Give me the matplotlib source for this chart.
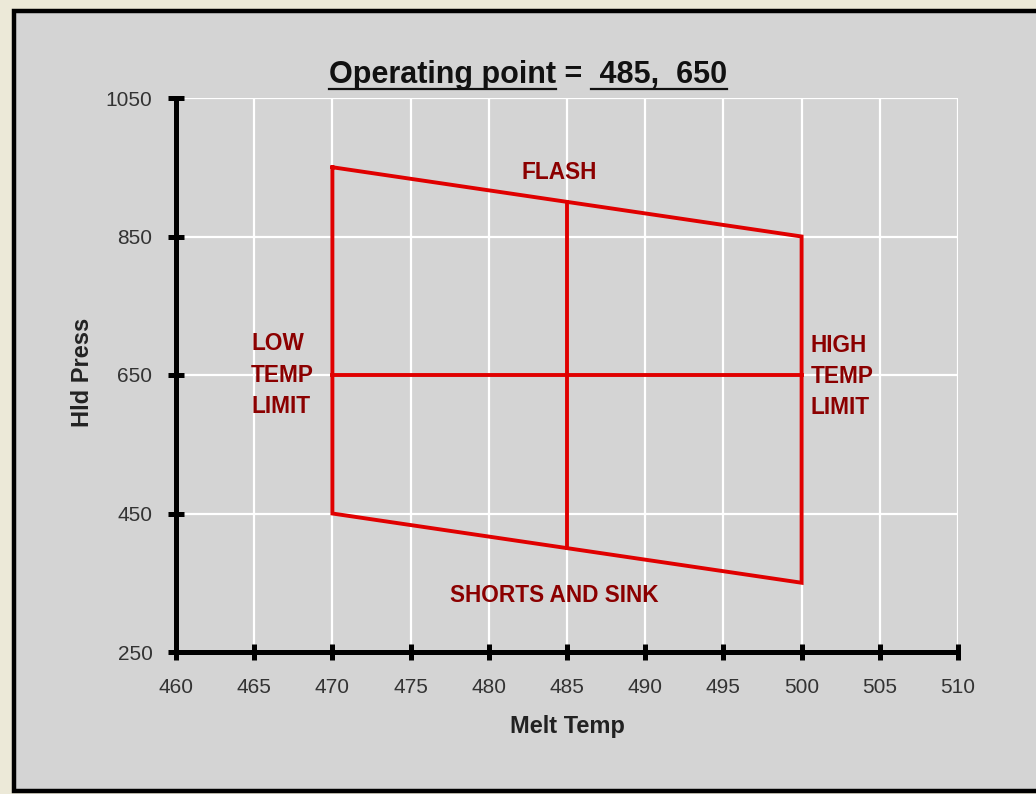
import matplotlib.pyplot as plt
from matplotlib.patches import Rectangle
from matplotlib.lines import Line2D

plt.rcParams['font.family'] = ['Liberation Sans', 'DejaVu Sans']

# data
x_ticks = [460, 465, 470, 475, 480, 485, 490, 495, 500, 505, 510]
y_ticks = [250, 450, 650, 850, 1050]

# process window corners (melt temp, hold press)
win_x = [470, 500, 500, 470, 470]
win_y = [950, 850, 350, 450, 950]

op_temp = 485
op_press = 650
op_press_lo = 400
op_press_hi = 900
temp_lo = 470
temp_hi = 500

red = '#E00000'
txt_red = '#8B0000'

fig = plt.figure(figsize=(10.36, 7.94), dpi=100)
fig.patch.set_facecolor('#ECE9D8')

# gray panel with black frame
panel = Rectangle((13.5/1036, 3/794), 1.1, 780/794, transform=fig.transFigure,
                  facecolor='#D4D4D4', edgecolor='black', linewidth=3.2, zorder=-1)
fig.patches.append(panel)

ax = fig.add_axes([176/1036, 1-652/794, 782/1036, 554/794])
ax.set_facecolor('#D4D4D4')

ax.plot(win_x, win_y, color=red, lw=2.8, solid_joinstyle='miter', zorder=3)
ax.plot([op_temp, op_temp], [op_press_lo, op_press_hi], color=red, lw=2.8, zorder=3)
ax.plot([temp_lo, temp_hi], [op_press, op_press], color=red, lw=2.8, zorder=3)

ax.set_xlim(460, 510)
ax.set_ylim(250, 1050)
ax.set_xticks(x_ticks)
ax.set_yticks(y_ticks)
ax.grid(True, color='white', lw=1.6, zorder=1)
ax.set_axisbelow(True)

for s in ['top', 'right']:
    ax.spines[s].set_visible(False)
for s in ['left', 'bottom']:
    ax.spines[s].set_linewidth(3.6)
    ax.spines[s].set_color('black')
    ax.spines[s].set_zorder(4)

ax.tick_params(axis='both', direction='inout', length=12, width=3.6,
               color='black', labelsize=15, labelcolor='#333333')
ax.tick_params(axis='x', pad=13)
ax.tick_params(axis='y', pad=11)

ax.set_xlabel('Melt Temp', fontsize=17, fontweight='bold', color='#222222', va='center')
ax.set_ylabel('Hld Press', fontsize=17, fontweight='bold', color='#222222', va='center')
ax.xaxis.set_label_coords(0.5, -0.135)
ax.yaxis.set_label_coords(-0.120, 0.504)

kw = dict(fontsize=16.3, fontweight='bold', color=txt_red, zorder=5)
ax.text(484.5, 943, 'FLASH', ha='center', va='center', **kw)
ax.text(484.2, 332, 'SHORTS AND SINK', ha='center', va='center', **kw)
ax.text(464.8, 650, 'LOW\nTEMP\nLIMIT', ha='left', va='center', linespacing=1.45, **kw)
ax.text(500.6, 648, 'HIGH\nTEMP\nLIMIT', ha='left', va='center', linespacing=1.45, **kw)

# title in three pieces so two of them can be underlined
parts = ['Operating point', ' = ', ' %d,  %d' % (op_temp, op_press)]
underline = [True, False, True]
fig.canvas.draw()
r = fig.canvas.get_renderer()
base_y = 1 - 83/794
tkw = dict(fontsize=22, fontweight='bold', color='#111111', va='baseline', ha='left')
widths = []
for p in parts:
    t = fig.text(0, base_y, p, **tkw)
    widths.append(t.get_window_extent(r).width)
    t.remove()
x = 528 - sum(widths) / 2
for p, w, u in zip(parts, widths, underline):
    fig.text(x/1036, base_y, p, **tkw)
    if u:
        fig.add_artist(Line2D([x/1036, (x + w)/1036], [1-89/794, 1-89/794],
                              transform=fig.transFigure, color='#111111', lw=1.6))
    x += w

fig.savefig('out.png', dpi=100, facecolor=fig.get_facecolor())
